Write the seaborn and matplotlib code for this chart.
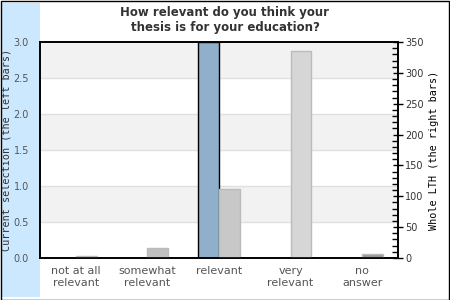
import matplotlib
matplotlib.use("Agg")
import matplotlib.pyplot as plt
from matplotlib.patches import Rectangle
from matplotlib.ticker import MultipleLocator
import seaborn as sns
import numpy as np

categories = ["not at all\nrelevant", "somewhat\nrelevant", "relevant", "very\nrelevant", "no\nanswer"]
current_selection = [0, 0, 3, 0, 0]
whole_lth = [3, 16, 112, 335, 6]
right_colors = ["#cccccc", "#c0c0c0", "#c8c8c8", "#d6d6d6", "#999999"]
title = "How relevant do you think your\nthesis is for your education?"
left_label = "Current selection (the left bars)"
right_label = "Whole LTH (the right bars)"

sns.set_theme(style="white")
plt.rcParams['font.family'] = ['DejaVu Sans']

fig = plt.figure(figsize=(4.5, 3), dpi=100)
fig.patch.set_facecolor("white")
# left blue strip and frame
fig.add_artist(Rectangle((2/450, 3/300), 38/450, 294/300, transform=fig.transFigure,
                         facecolor="#cce8ff", edgecolor="none", zorder=0))
fig.add_artist(Rectangle((0.5/450, 0.5/300), 448.5/450, 298.5/300, transform=fig.transFigure,
                         facecolor="none", edgecolor="black", linewidth=1, zorder=10))

ax = fig.add_axes([40/450, 42/300, 358/450, 216/300])
ax.set_facecolor("white")

bw = 0.29
sns.barplot(x=categories, y=current_selection, ax=ax, width=bw, color="#8fafca",
            edgecolor="black", linewidth=1, saturation=1, zorder=2)
for cont in ax.containers:
    for p in cont:
        p.set_x(p.get_x() - bw / 2)
        if p.get_height() == 0:
            p.set_linewidth(0)

ax2 = ax.twinx()
sns.barplot(x=categories, y=whole_lth, ax=ax2, width=bw, hue=categories,
            palette=right_colors, edgecolor="#bbbbbb", linewidth=1, saturation=1,
            legend=False, zorder=2)
for cont in ax2.containers:
    for p in cont:
        p.set_x(p.get_x() + bw / 2)

# background bands and grid
for i, lo in enumerate(np.arange(0, 3.0, 0.5)):
    if i % 2 == 1:
        ax.axhspan(lo, lo + 0.5, color="#f2f2f2", zorder=0, linewidth=0)
for v in np.arange(0.5, 3.0, 0.5):
    ax.axhline(v, color="#e0e0e0", linewidth=1, zorder=0.5)

ax.set_xlim(-0.5, 4.5)
ax.set_ylim(0, 3.0)
ax2.set_ylim(0, 350)
ax.set_yticks(np.arange(0, 3.01, 0.5))
ax.set_yticklabels([f"{v:.1f}" for v in np.arange(0, 3.01, 0.5)])
ax.tick_params(axis="y", length=0, pad=8, labelsize=7, labelcolor="#555555")
ax.tick_params(axis="x", length=0, pad=6, labelsize=8, labelcolor="#555555")
ax2.yaxis.set_major_locator(MultipleLocator(50))
ax2.yaxis.set_minor_locator(MultipleLocator(10))
ax2.tick_params(axis="y", which="major", direction="inout", length=7, width=1, color="black",
                pad=1.5, labelsize=7, labelcolor="#333333")
ax2.tick_params(axis="y", which="minor", direction="in", length=4, width=1, color="black")
ax2.yaxis.set_ticks_position("right")

for a in (ax, ax2):
    for s in a.spines.values():
        s.set_color("black")
        s.set_linewidth(1.2)

ax.set_ylabel(left_label, family="DejaVu Sans Mono", fontsize=7.3, color="#333333")
ax.yaxis.set_label_coords(-0.079, 0.5)
ax2.set_ylabel(right_label, family="DejaVu Sans Mono", fontsize=7.3, color="black")
ax2.yaxis.set_label_coords(1.087, 0.5)
ax.set_xlabel("")

fig.text(225/450, 1 - 20/300, title, ha="center", va="center", fontsize=8.5,
         fontweight="bold", color="#333333", linespacing=1.25)

fig.savefig("out.png", dpi=100)
